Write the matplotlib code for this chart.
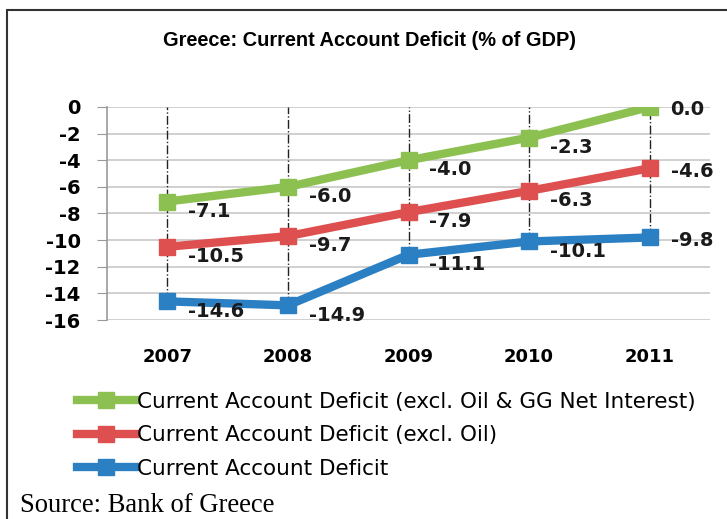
import matplotlib
matplotlib.use("Agg")
import matplotlib.pyplot as plt
from matplotlib.patches import Rectangle

plt.rcParams["axes.unicode_minus"] = False

years = ["2007", "2008", "2009", "2010", "2011"]
cad_excl_oil_gg = [-7.1, -6.0, -4.0, -2.3, 0.0]
cad_excl_oil = [-10.5, -9.7, -7.9, -6.3, -4.6]
cad = [-14.6, -14.9, -11.1, -10.1, -9.8]

names = [
    "Current Account Deficit (excl. Oil & GG Net Interest)",
    "Current Account Deficit (excl. Oil)",
    "Current Account Deficit",
]
colors = ["#8cc152", "#de4f4f", "#2b7fc3"]
series = [cad_excl_oil_gg, cad_excl_oil, cad]

fig = plt.figure(figsize=(7.27, 5.19), dpi=100)
ax = fig.add_axes([107 / 727, 1 - 320 / 519, 603 / 727, 213 / 519])

x = list(range(len(years)))

# dash-dot drop lines from the top of the plot down to the lowest point
lows = [min(v) for v in zip(*series)]
ax.vlines(x, lows, 0, colors="#222222", linestyles="dashdot", linewidth=1.0, zorder=2)

lines = []
for vals, c, n in zip(series, colors, names):
    ln, = ax.plot(x, vals, color=c, linewidth=6, marker="s", markersize=11,
                  solid_joinstyle="miter", label=n, zorder=3)
    lines.append(ln)
    for i, v in enumerate(vals):
        dy = -2 if i == len(vals) - 1 else -7
        ax.annotate(f"{v:.1f}", (i, v), xytext=(15, dy), textcoords="offset points",
                    ha="left", va="center", fontsize=14, fontweight="bold",
                    color="#1a1a1a", zorder=4)

ax.set_xlim(-0.5, len(years) - 0.5)
ax.set_ylim(-16, 0)
ax.set_yticks(range(-16, 1, 2))
ax.set_xticks(x)
ax.set_xticklabels(years)
ax.grid(axis="y", color="#c8c8c8", linewidth=1.2)
ax.set_axisbelow(True)
for s in ["top", "right", "bottom"]:
    ax.spines[s].set_visible(False)
ax.spines["left"].set_color("#999999")
ax.spines["left"].set_linewidth(1.2)
ax.tick_params(axis="y", length=7, color="#999999", pad=12, labelsize=14)
ax.tick_params(axis="x", length=0, pad=20, labelsize=13)
for t in ax.get_xticklabels() + ax.get_yticklabels():
    t.set_fontweight("bold")

fig.text(370 / 727, 1 - 40 / 519, "Greece: Current Account Deficit (% of GDP)",
         ha="center", va="center", fontsize=14.4, fontweight="bold",
         family="Liberation Sans")

fig.legend(handles=lines, loc="upper left", bbox_to_anchor=(77 / 727, 1 - 392 / 519),
           frameon=False, handlelength=2.7, handletextpad=0.1,
           labelspacing=0.62, borderpad=0, borderaxespad=0,
           prop={"family": "DejaVu Sans", "size": 15.5})

fig.text(20 / 727, 1 - 505 / 519, "Source: Bank of Greece", ha="left", va="center",
         fontsize=19.2, family="Liberation Serif")

# outer frame (runs off the right and bottom edges)
fig.patches.append(Rectangle((7 / 727, -0.1), 1.2, 1 - 10 / 519 + 0.1,
                             transform=fig.transFigure, fill=False,
                             edgecolor="#333333", linewidth=1.5))

fig.savefig("out.png", dpi=100)
